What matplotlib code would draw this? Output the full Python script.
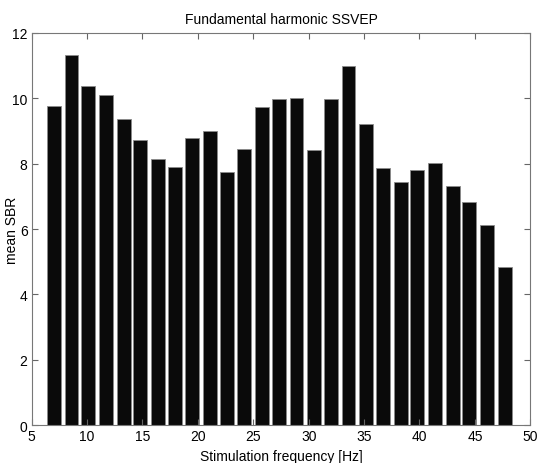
import matplotlib
matplotlib.use("Agg")
import matplotlib.pyplot as plt

plt.rcParams['font.family'] = ['Liberation Sans', 'DejaVu Sans']

# stimulation frequencies (Hz) and mean SBR of the fundamental harmonic
freqs = [7.0, 8.6, 10.1, 11.7, 13.3, 14.8, 16.4, 17.9, 19.5, 21.1, 22.6, 24.2, 25.8,
         27.3, 28.9, 30.5, 32.0, 33.6, 35.2, 36.7, 38.3, 39.8, 41.4, 43.0, 44.5,
         46.1, 47.7]
sbr = [9.76, 11.33, 10.37, 10.10, 9.37, 8.72, 8.15, 7.91, 8.78, 8.99, 7.74, 8.46, 9.72,
       9.97, 10.01, 8.41, 9.97, 10.98, 9.20, 7.87, 7.44, 7.81, 8.02, 7.31, 6.84,
       6.13, 4.83]

xticks = [5, 10, 15, 20, 25, 30, 35, 40, 45, 50]
yticks = [0, 2, 4, 6, 8, 10, 12]

fig = plt.figure(figsize=(5.37, 4.64), dpi=100)
ax = fig.add_axes([0.059, 0.0813, 0.9285, 0.8457])

ax.bar(freqs, sbr, width=1.25, color='#0a0a0a', edgecolor='#8a8a8a', linewidth=0.6)

ax.set_xlim(5, 50)
ax.set_ylim(0, 12)
ax.set_xticks(xticks)
ax.set_yticks(yticks)
ax.tick_params(direction='in', length=4, width=0.8, color='#666666',
               top=True, right=True, labelsize=10, pad=3)
for s in ax.spines.values():
    s.set_color('#777777')
    s.set_linewidth(0.8)

ax.set_title('Fundamental harmonic SSVEP', fontsize=10, pad=7)
ax.set_xlabel('Stimulation frequency [Hz]', fontsize=10, labelpad=4)
ax.set_ylabel('mean SBR', fontsize=10)
ax.yaxis.set_label_coords(-0.026, 0.5)

fig.savefig('out.png', dpi=100)
